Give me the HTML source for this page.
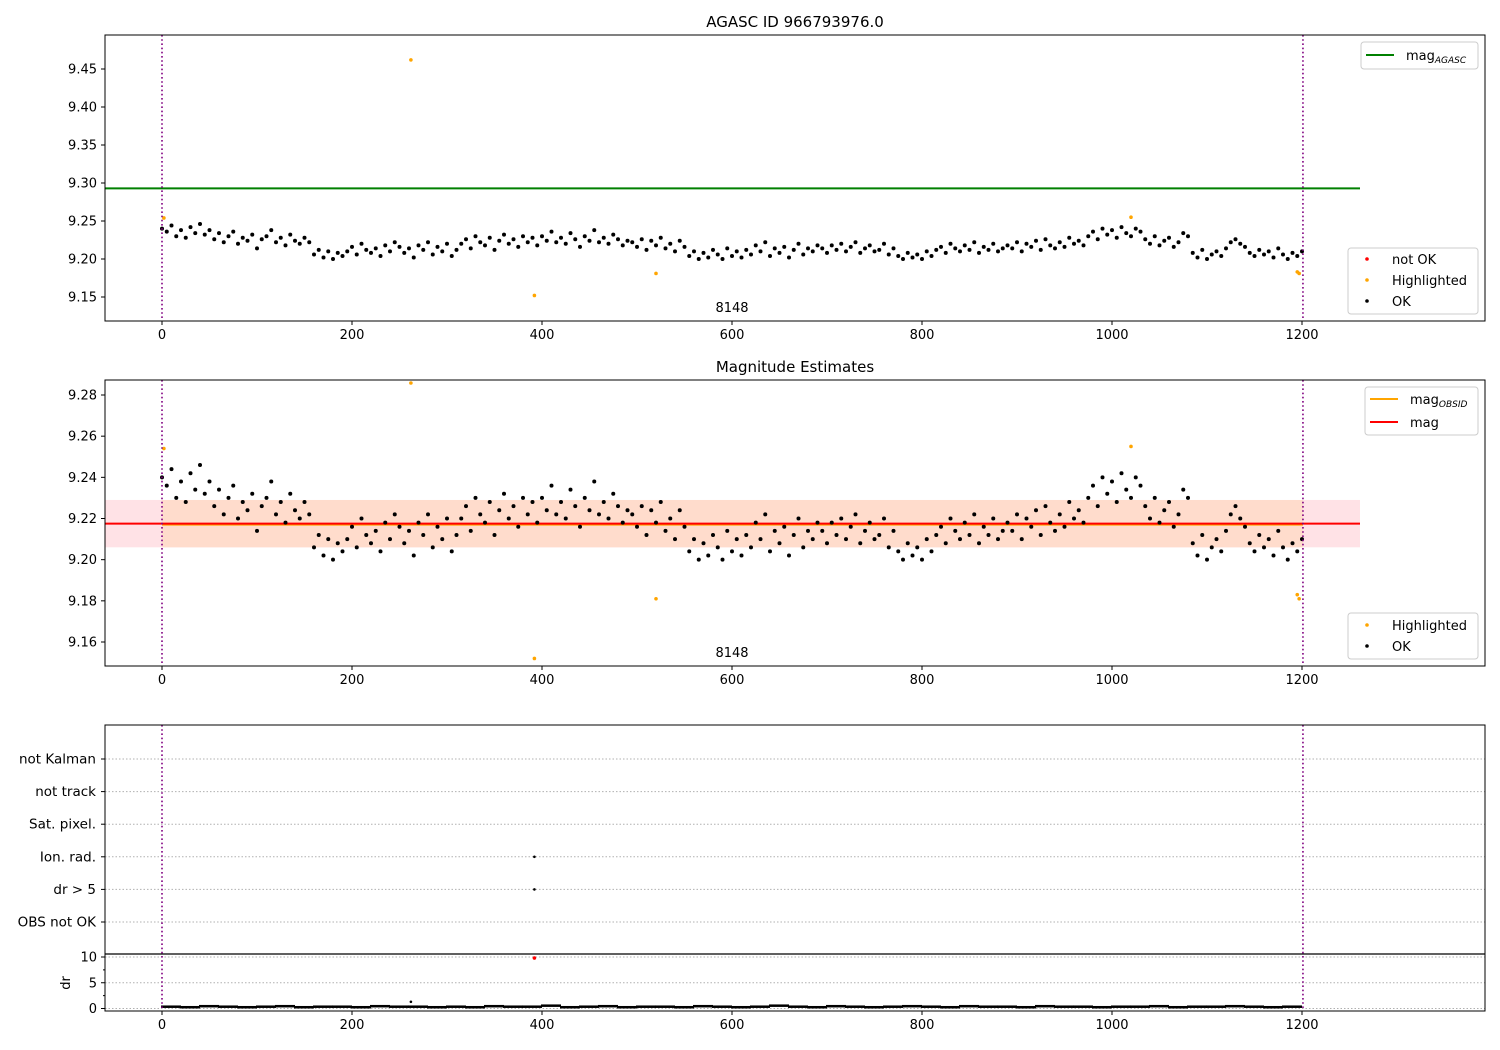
<!DOCTYPE html>
<html><head><meta charset="utf-8"><style>
body{margin:0;background:#fff;}
svg{display:block;font-family:"DejaVu Sans","Liberation Sans",sans-serif;}
</style></head><body>
<svg id="fig" width="1500" height="1050" viewBox="0 0 1500 1050" xmlns="http://www.w3.org/2000/svg"></svg>
<script>
// magnitudes in thousandths above 9.2, one per 5 observations
const magMilli = [40,36,44,30,38,28,42,34,46,32,38,
26,34,22,30,36,20,28,24,32,
14,26,30,38,22,28,18,32,24,20,28,22,
6,12,2,10,0,8,4,
10,16,6,20,12,8,14,4,18,10,22,16,
8,14,2,18,12,22,6,16,10,20,4,12,
20,26,14,30,22,18,28,12,24,32,20,26,16,30,22,28,
18,30,24,36,22,28,20,34,26,16,30,24,38,22,28,20,32,26,18,24,
22,16,26,12,24,18,28,14,20,10,24,16,
4,10,0,8,2,12,6,0,14,4,10,2,
12,6,18,10,22,4,14,8,16,2,12,20,6,14,10,18,
14,8,18,12,20,10,16,22,8,14,18,10,12,20,6,14,
4,0,8,2,6,0,10,4,
12,16,8,20,14,10,18,12,22,8,16,12,20,10,14,18,
14,22,10,20,16,24,12,26,18,14,22,16,28,20,24,18,
30,36,26,40,32,38,28,42,34,30,40,36,
26,20,30,18,24,28,16,22,34,30,
8,2,12,0,6,10,4,14,
22,26,20,16,
8,4,12,6,10,2,14,6,0,8,4,10];
const obsStep = 5;
const hiX = [2,262,392,520,1020,1195,1197];
const hiMag = [9.254,9.462,9.152,9.181,9.255,9.183,9.181];
const magAgasc = 9.293;
const magObs = 9.2175;
const magBandLo = 9.206, magBandHi = 9.229;
const drVals = [0.3,0.2,0.4,0.3,0.2,0.3,0.4,0.2,0.3,0.3,0.2,0.4,0.3,0.3,0.2,0.3,0.2,0.4,0.3,0.3,0.5,0.2,0.3,0.4,0.2,0.3,0.3,0.2,0.4,0.3,0.2,0.3,0.5,0.3,0.2,0.4,0.3,0.2,0.3,0.4,0.3,0.2,0.4,0.3,0.3,0.2,0.4,0.3,0.3,0.2,0.3,0.3,0.4,0.2,0.3,0.3,0.4,0.3,0.2,0.3];
const drStep = 20;
const drOutX = [262], drOutVal = [1.3];
const notOkX = [392], notOkDr = [9.8];
const flagCats = ["not Kalman","not track","Sat. pixel.","Ion. rad.","dr > 5","OBS not OK"];
const flagX = [392,392], flagCat = ["Ion. rad.","dr > 5"];
const xTicks = [0,200,400,600,800,1000,1200];
const y1Ticks = [9.15,9.20,9.25,9.30,9.35,9.40,9.45];
const y2Ticks = [9.16,9.18,9.20,9.22,9.24,9.26,9.28];
const drTicks = [0,5,10];

const svg = document.getElementById('fig');
const NS = "http://www.w3.org/2000/svg";
function el(tag, attrs, parent){const e=document.createElementNS(NS,tag);for(const k in attrs)e.setAttribute(k,attrs[k]);(parent||svg).appendChild(e);return e;}
const L=105,R=1485;
const X = v => 162 + v*0.95;
const Y1 = v => 297 - (v-9.15)*760;
const Y2 = v => 642 - (v-9.16)*2058.3;
const YD = v => 1008.5 - v*5.15;
const fmt=(v,d)=>v.toFixed(d);

function frame(top,bot,name){
  const r=el('rect',{x:L,y:top,width:R-L,height:bot-top,fill:'none',stroke:'#000','stroke-width':1});
  
}
function xAxis(bot,name){
  const g=el('g',{});
  xTicks.forEach(t=>{el('line',{x1:X(t),x2:X(t),y1:bot,y2:bot+4,stroke:'#000'},g);
    const tx=el('text',{x:X(t),y:bot+18,'font-size':13,'text-anchor':'middle'},g);tx.textContent=t;});
}
function yAxis(ticks,Yf,d,name){
  const g=el('g',{});
  ticks.forEach(t=>{el('line',{x1:L-4,x2:L,y1:Yf(t),y2:Yf(t),stroke:'#000'},g);
    const tx=el('text',{x:L-8,y:Yf(t)+4.5,'font-size':13,'text-anchor':'end'},g);tx.textContent=fmt(t,d);});
}
function vlines(top,bot){
  [0,1201].forEach(v=>{const l=el('line',{x1:X(v),x2:X(v),y1:top,y2:bot,stroke:'#800080','stroke-width':1.6,'stroke-dasharray':'1.6,2.6'});
  });
}
function title(txt,y,name){const t=el('text',{x:795,y:y,'font-size':15,'text-anchor':'middle'});t.textContent=txt;
  }

// ---------- Panel 1 ----------
title('AGASC ID 966793976.0',27,'top-chart-title');
const c1=el('clipPath',{id:'c1'});el('rect',{x:L,y:35,width:R-L,height:286},c1);
let g1=el('g',{'clip-path':'url(#c1)'});
const ag=el('line',{x1:L,x2:1360,y1:Y1(magAgasc),y2:Y1(magAgasc),stroke:'#008000','stroke-width':2},g1);

magMilli.forEach((m,i)=>{const c=el('circle',{cx:X(i*obsStep),cy:Y1(9.2+m/1000),r:2,fill:'#000'},g1);
  });
hiX.forEach((x,i)=>{const c=el('circle',{cx:X(x),cy:Y1(hiMag[i]),r:1.8,fill:'orange'},g1);
  });
vlines(35,321);
frame(35,321,'top-plot-area');xAxis(321,'top-x-axis');yAxis(y1Ticks,Y1,2,'top-y-axis');
let t8=el('text',{x:732,y:312,'font-size':13,'text-anchor':'middle'});t8.textContent='8148';


// ---------- Panel 2 ----------
title('Magnitude Estimates',372,'middle-chart-title');
const c2=el('clipPath',{id:'c2'});el('rect',{x:L,y:380,width:R-L,height:286},c2);
let g2=el('g',{'clip-path':'url(#c2)'});
const b1=el('rect',{x:L,y:Y2(magBandHi),width:1360-L,height:Y2(magBandLo)-Y2(magBandHi),fill:'#ffe2e6'},g2);

const b2=el('rect',{x:X(0),y:Y2(magBandHi),width:X(1201)-X(0),height:Y2(magBandLo)-Y2(magBandHi),fill:'#ffdccc'},g2);

const ol=el('line',{x1:X(0),x2:X(1201),y1:Y2(magObs)+1,y2:Y2(magObs)+1,stroke:'orange','stroke-width':2},g2);

const ml=el('line',{x1:L,x2:1360,y1:Y2(magObs),y2:Y2(magObs),stroke:'red','stroke-width':2},g2);

magMilli.forEach((m,i)=>{const c=el('circle',{cx:X(i*obsStep),cy:Y2(9.2+m/1000),r:2,fill:'#000'},g2);
  });
hiX.forEach((x,i)=>{const c=el('circle',{cx:X(x),cy:Math.max(Y2(hiMag[i]),383),r:1.8,fill:'orange'},g2);
  });
vlines(380,666);
frame(380,666,'middle-plot-area');xAxis(666,'middle-x-axis');yAxis(y2Ticks,Y2,2,'middle-y-axis');
t8=el('text',{x:732,y:657,'font-size':13,'text-anchor':'middle'});t8.textContent='8148';


// ---------- Panel 3 flags ----------
const fg=el('g',{});
const catY = c => 759 + flagCats.indexOf(c)*32.6;
flagCats.forEach(c=>{el('line',{x1:L,x2:R,y1:catY(c),y2:catY(c),stroke:'#b0b0b0','stroke-dasharray':'1.5,2'},fg);
  el('line',{x1:L-4,x2:L,y1:catY(c),y2:catY(c),stroke:'#000'},fg);
  const t=el('text',{x:L-9,y:catY(c)+4.5,'font-size':13.5,'text-anchor':'end'},fg);t.textContent=c;});
flagX.forEach((x,i)=>{const c=el('circle',{cx:X(x),cy:catY(flagCat[i]),r:1.3,fill:'#000'});
  });
// dr
drTicks.forEach(t=>{el('line',{x1:L,x2:R,y1:YD(t),y2:YD(t),stroke:'#b0b0b0','stroke-dasharray':'1.5,2'});});
[2.5,7.5].forEach(t=>el('line',{x1:L-2,x2:L,y1:YD(t),y2:YD(t),stroke:'#000'}));
drVals.forEach((d,i)=>{const c=el('rect',{x:X(i*drStep)-1,y:YD(d)-1.5,width:X(drStep)-X(0)+1,height:2.5,fill:'#000'});
  });
drOutX.forEach((x,i)=>{const c=el('circle',{cx:X(x),cy:YD(drOutVal[i]),r:1.3,fill:'#000'});
  });
notOkX.forEach((x,i)=>{const c=el('circle',{cx:X(x),cy:YD(notOkDr[i]),r:1.8,fill:'red'});
  });
vlines(725,1011);
frame(725,1011,'flags-plot-area');
const sep=el('line',{x1:L,x2:R,y1:954,y2:954,stroke:'#000','stroke-width':1.2});

xAxis(1011,'bottom-x-axis');yAxis(drTicks,YD,0,'dr-y-axis');
const dl=el('text',{x:0,y:0,'font-size':13,'text-anchor':'middle',transform:'translate(70,983) rotate(-90)'});dl.textContent='dr';


// ---------- Legends ----------
function legendBox(x,y,w,h,name){const r=el('rect',{x:x,y:y,width:w,height:h,rx:3,fill:'#fff','fill-opacity':0.8,stroke:'#ccc'});
  }
function lineEntry(x,y,color,label,sub,name){
  const g=el('g',{});
  el('line',{x1:x,x2:x+28,y1:y,y2:y,stroke:color,'stroke-width':2},g);
  const t=el('text',{x:x+40,y:y+5,'font-size':13},g);t.textContent=label;
  if(sub){const s=el('tspan',{'font-size':9,'font-style':'italic',dy:3},t);s.textContent=sub;}
}
function dotEntry(x,y,color,label,name){
  const g=el('g',{});
  el('circle',{cx:x,cy:y,r:1.8,fill:color},g);
  const t=el('text',{x:x+25,y:y+5,'font-size':13},g);t.textContent=label;
}
legendBox(1361,42,117,27,'top-line-legend');lineEntry(1366,55,'#008000','mag','AGASC','legend-mag-agasc');
legendBox(1348,248,130,66,'top-point-legend');
dotEntry(1367,259,'red','not OK','legend-not-ok');dotEntry(1367,280,'orange','Highlighted','legend-highlighted');dotEntry(1367,301,'#000','OK','legend-ok');
legendBox(1365,387,113,48,'middle-line-legend');
lineEntry(1370,399,'orange','mag','OBSID','legend-mag-obsid');lineEntry(1370,422,'red','mag','','legend-mag');
legendBox(1348,613,130,46,'middle-point-legend');
dotEntry(1367,625,'orange','Highlighted','legend-highlighted');dotEntry(1367,646,'#000','OK','legend-ok');
</script>
</body></html>
